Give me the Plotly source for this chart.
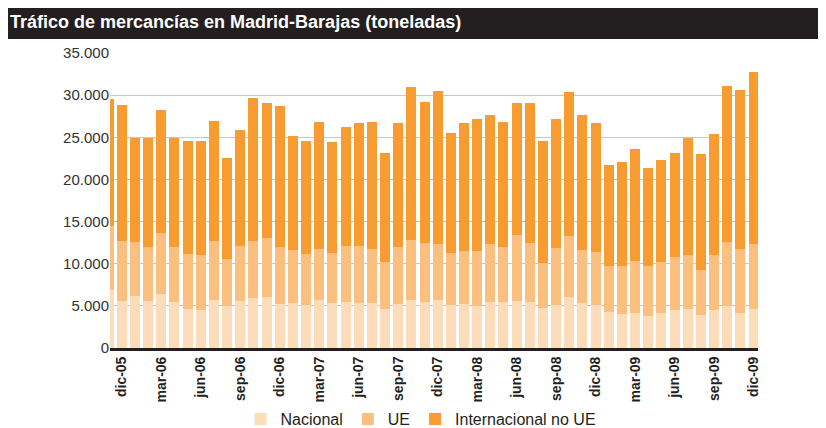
import plotly.graph_objects as go

months = ["nov-05", "dic-05",
          "ene-06", "feb-06", "mar-06", "abr-06", "may-06", "jun-06", "jul-06", "ago-06", "sep-06", "oct-06", "nov-06", "dic-06",
          "ene-07", "feb-07", "mar-07", "abr-07", "may-07", "jun-07", "jul-07", "ago-07", "sep-07", "oct-07", "nov-07", "dic-07",
          "ene-08", "feb-08", "mar-08", "abr-08", "may-08", "jun-08", "jul-08", "ago-08", "sep-08", "oct-08", "nov-08", "dic-08",
          "ene-09", "feb-09", "mar-09", "abr-09", "may-09", "jun-09", "jul-09", "ago-09", "sep-09", "oct-09", "nov-09", "dic-09"]

nacional = [6880, 5570,
            6170, 5570, 6400, 5450, 4620, 4500, 5690, 4980, 5570, 5930, 6050, 5220,
            5340, 5100, 5690, 5340, 5450, 5340, 5340, 4620, 5220, 5690, 5450, 5690,
            5100, 5220, 4980, 5450, 5450, 5570, 5450, 4740, 5100, 6050, 5340, 5100,
            4270, 4030, 4150, 3790, 4150, 4510, 4620, 3910, 4510, 4980, 4150, 4620]

ue = [7590, 7120,
      6400, 6410, 7240, 6530, 6530, 6530, 7000, 5580, 6530, 6760, 6990, 6760,
      6280, 6050, 6050, 5930, 6650, 6760, 6400, 5580, 6760, 7120, 7000, 6640,
      6170, 6280, 6520, 6880, 6530, 7830, 7000, 5340, 6760, 7230, 6280, 6280,
      5450, 5690, 6170, 5930, 6050, 6280, 6410, 5340, 6520, 7590, 7590, 7710]

internacional = [15020, 16125,
                 12330, 12920, 14580, 12920, 13400, 13520, 14230, 11970, 13750, 16960, 16010, 16720,
                 13520, 13400, 15060, 13160, 14110, 14590, 15060, 12930, 14710, 18140, 16720, 18140,
                 14230, 15190, 15650, 15300, 14820, 15650, 16600, 14470, 15290, 17080, 16010, 15310,
                 11980, 12340, 13280, 11620, 12090, 12330, 13870, 13750, 14350, 18500, 18850, 20400]

tick_months = ["dic-05", "mar-06", "jun-06", "sep-06", "dic-06", "mar-07", "jun-07", "sep-07", "dic-07",
               "mar-08", "jun-08", "sep-08", "dic-08", "mar-09", "jun-09", "sep-09", "dic-09"]

y_ticks = [0, 5000, 10000, 15000, 20000, 25000, 30000, 35000]

series = [
    ("Nacional", nacional, "#FDDCB9"),
    ("UE", ue, "#FBC07F"),
    ("Internacional no UE", internacional, "#F89C31"),
]

fig = go.Figure()
for name, vals, color in series:
    fig.add_trace(go.Bar(x=months, y=vals, name=name,
                         marker=dict(color=color, line=dict(width=0))))

dark = "#231F20"
fig.update_layout(
    width=826, height=428,
    barmode="stack", bargap=0.24,
    separators=",.",
    paper_bgcolor="white", plot_bgcolor="white",
    margin=dict(l=102, r=76, t=45, b=88, pad=0, autoexpand=False),
    font=dict(family="Liberation Sans, Arial, sans-serif", color=dark),
    showlegend=True,
    legend=dict(orientation="h", x=0.48, xanchor="center", y=-0.183, yanchor="top",
                font=dict(size=16, color=dark), traceorder="normal",
                bgcolor="rgba(0,0,0,0)", itemwidth=30),
    xaxis=dict(type="category", range=[0.1, 49.34], automargin=False,
               tickvals=tick_months, ticktext=tick_months, tickangle=-90,
               tickfont=dict(size=14, color=dark, weight="bold",
                             family="Liberation Sans, Arial, sans-serif"),
               showgrid=False, showline=True, linecolor=dark, linewidth=3,
               ticks="", ticklen=0, fixedrange=True),
    yaxis=dict(range=[0, 35000], tickvals=y_ticks, tickformat=",d", automargin=False,
               tickfont=dict(size=15, color="#333333"),
               showgrid=True, gridcolor="#C8C8C8", gridwidth=1,
               zeroline=False, showline=False, ticks=""),
    shapes=[
        dict(type="rect", xref="paper", yref="paper", x0=-0.2, x1=1.2,
             y0=1.0475, y1=1.1627, fillcolor=dark, line=dict(width=0), layer="above"),
    ],
    annotations=[
        dict(text="<b>Tráfico de mercancías en Madrid-Barajas (toneladas)</b>",
             xref="paper", yref="paper", x=-0.1574, y=1.105, xanchor="left", yanchor="middle",
             showarrow=False,
             font=dict(family="Liberation Sans, Arial, sans-serif",
                       size=18, color="white")),
    ],
)

fig.write_html("out.html")
